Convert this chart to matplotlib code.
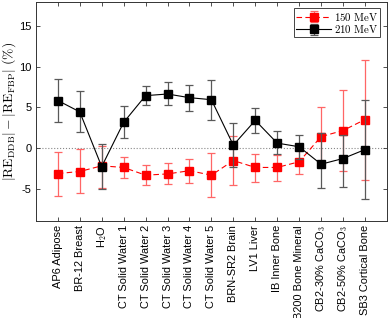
import matplotlib
matplotlib.use("Agg")
import matplotlib.pyplot as plt
import numpy as np

plt.rcParams['font.family'] = ['Liberation Sans', 'DejaVu Sans']
plt.rcParams['mathtext.fontset'] = 'cm'

materials = ["AP6 Adipose", "BR-12 Breast", r"H$_2$O", "CT Solid Water 1",
             "CT Solid Water 2", "CT Solid Water 3", "CT Solid Water 4",
             "CT Solid Water 5", "BRN-SR2 Brain", "LV1 Liver", "IB Inner Bone",
             "B200 Bone Mineral", r"CB2-30% CaCO$_3$", r"CB2-50% CaCO$_3$",
             "SB3 Cortical Bone"]

# 150 MeV: value, upper and lower error-bar ends
red_val = [-3.15, -2.9, -2.2, -2.4, -3.35, -3.2, -2.8, -3.35, -1.55, -2.4, -2.4, -1.7, 1.4, 2.15, 3.5]
red_hi = [-0.45, -0.1, 0.3, -1.1, -2.1, -1.9, -1.3, -0.65, 1.45, -0.8, -0.9, -0.1, 5.05, 7.1, 10.9]
red_lo = [-5.9, -5.6, -4.9, -3.7, -4.6, -4.4, -4.3, -6.0, -4.6, -4.2, -4.05, -3.2, -2.2, -2.85, -3.9]

# 210 MeV
blk_val = [5.85, 4.45, -2.3, 3.15, 6.45, 6.65, 6.2, 5.95, 0.35, 3.4, 0.6, 0.15, -2.0, -1.3, -0.2]
blk_hi = [8.5, 7.0, 0.45, 5.2, 7.6, 8.15, 7.8, 8.4, 3.1, 4.9, 2.05, 1.65, 1.8, 1.6, 5.9]
blk_lo = [3.2, 2.0, -5.0, 1.25, 5.25, 5.25, 4.5, 3.5, -2.3, 1.9, -0.8, -1.3, -4.95, -4.8, -6.3]

x = np.arange(1, len(materials) + 1)

fig = plt.figure(figsize=(3.9, 3.18), dpi=100)
ax = fig.add_axes([0.092, 0.305, 0.9, 0.689])

ax.axhline(0, color='#888888', ls=':', lw=0.8, zorder=0)

rv = np.array(red_val)
ax.errorbar(x, rv, yerr=[rv - np.array(red_lo), np.array(red_hi) - rv],
            color='red', ls='--', lw=0.8, dashes=(5, 3), marker='s', ms=6,
            ecolor=(1, 0.4, 0.4), elinewidth=0.9, capsize=3, capthick=0.9,
            label=r'$\mathrm{150\ MeV}$', zorder=2)

bv = np.array(blk_val)
ax.errorbar(x, bv, yerr=[bv - np.array(blk_lo), np.array(blk_hi) - bv],
            color='black', ls='-', lw=0.8, marker='s', ms=6,
            ecolor=(0.35, 0.35, 0.35), elinewidth=0.9, capsize=3, capthick=0.9,
            label=r'$\mathrm{210\ MeV}$', zorder=3)

ax.set_xlim(0, 16)
ax.set_ylim(-9, 18)
ax.set_xticks(x)
ax.set_xticklabels(materials, rotation=90, fontsize=7.9)
ax.set_yticks([-5, 0, 5, 10, 15])
ax.set_yticklabels(['-5', '0', '5', '10', '15'], fontsize=8.0)
ax.tick_params(direction='in', top=True, right=True, length=3, width=0.6,
               color='#333333', pad=3)
for s in ax.spines.values():
    s.set_linewidth(0.7)
    s.set_color('#333333')

ax.set_ylabel(r'$|\mathrm{RE}_{\mathrm{DDB}}| - |\mathrm{RE}_{\mathrm{FBP}}|\ (\%)$',
              fontsize=9.8, labelpad=1)

leg = ax.legend(loc='upper right', fontsize=7.8, fancybox=False, framealpha=1,
                edgecolor='#444444', handlelength=3.2, borderpad=0.2,
                labelspacing=0.05, handletextpad=0.3, borderaxespad=0.6)
leg.get_frame().set_linewidth(0.7)

fig.savefig("out.png", dpi=100)
